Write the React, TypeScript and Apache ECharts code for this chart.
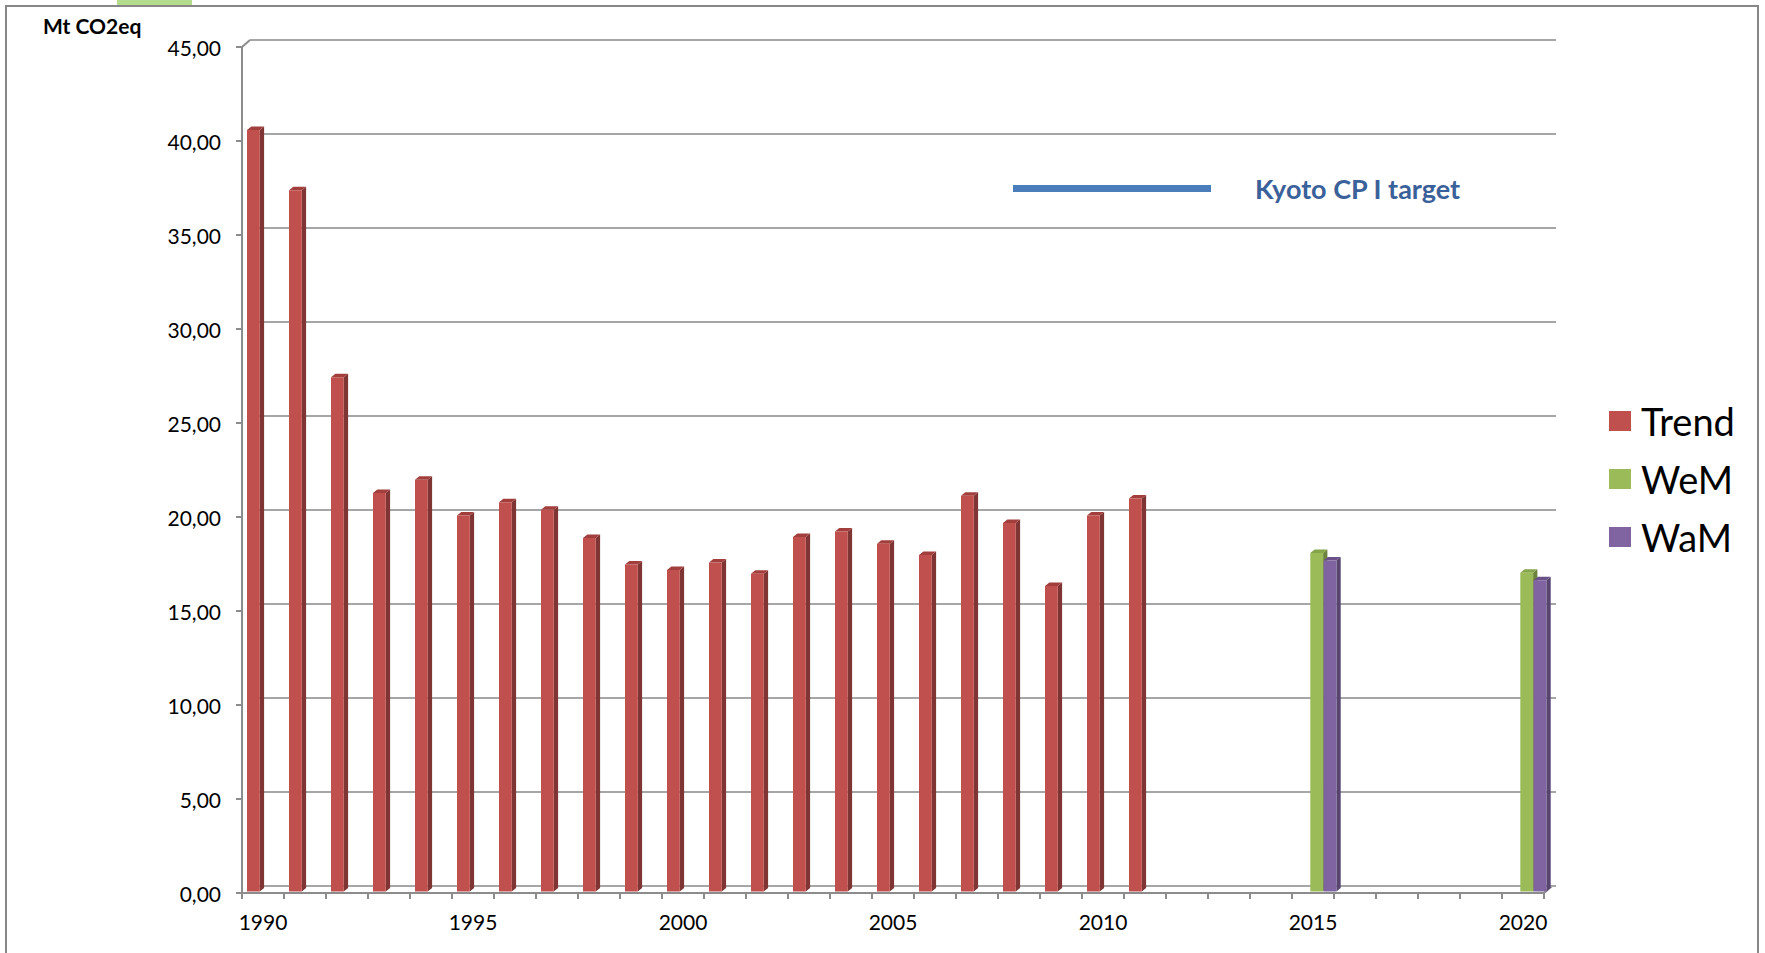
import React, { useEffect, useRef } from 'react';
import * as echarts from 'echarts';

const categories = [
  '1990', '1991', '1992', '1993', '1994', '1995', '1996', '1997', '1998', '1999',
  '2000', '2001', '2002', '2003', '2004', '2005', '2006', '2007', '2008', '2009',
  '2010', '2011', '2012', '2013', '2014', '2015', '2016', '2017', '2018', '2019', '2020',
];
const trendValues = [
  40.5, 37.3, 27.35, 21.2, 21.9, 20.0, 20.7, 20.3, 18.8, 17.4,
  17.1, 17.5, 16.9, 18.85, 19.15, 18.5, 17.9, 21.05, 19.6, 16.25,
  20.0, 20.9,
];
const projectionYears = ['2015', '2020'];
const wemValues = [18.0, 16.95];
const wamValues = [17.6, 16.55];
const yMin = 0;
const yMax = 45;
const yStep = 5;

const FONT = 'Lato, "Open Sans", sans-serif';

type Colors = { front: string; side: string; top: string };
const trendColors: Colors = { front: '#C0504D', side: '#7E3533', top: '#A23F3C' };
const wemColors: Colors = { front: '#9BBB59', side: '#6C833D', top: '#86A449' };
const wamColors: Colors = { front: '#8064A2', side: '#574570', top: '#6A5289' };

function make3D(slot: number, colors: Colors) {
  return (params: any, api: any) => {
    const idx = api.value(0);
    const v = api.value(1);
    if (v == null || isNaN(v)) return null;
    const p = api.coord([idx, v]);
    const b = api.coord([idx, 0]);
    const band = api.size([1, 0])[0];
    const u = band / 42;
    const w = 12.8 * u;
    const dx = 4.3 * u;
    const dy = 3.5 * u;
    const L = p[0] - 16 * u + slot * 13.3 * u;
    const yT = p[1] - 1.5;
    const yB = b[1] - 1.5;
    return {
      type: 'group',
      children: [
        {
          type: 'polygon',
          shape: { points: [[L + w, yT], [L + w + dx, yT - dy], [L + w + dx, yB - dy], [L + w, yB]] },
          style: { fill: colors.side },
        },
        {
          type: 'polygon',
          shape: { points: [[L, yT], [L + dx, yT - dy], [L + w + dx, yT - dy], [L + w, yT]] },
          style: { fill: colors.top },
        },
        {
          type: 'rect',
          shape: { x: L, y: yT, width: w, height: yB - yT },
          style: { fill: colors.front },
        },
      ],
    };
  };
}

export default function App() {
  const ref = useRef<HTMLDivElement>(null);
  useEffect(() => {
    if (!ref.current) return;
    const chart = echarts.init(ref.current, null, { renderer: 'svg' });
    const trendData = trendValues.map((v, i) => [i, v]);
    const wemData = projectionYears.map((y, i) => [categories.indexOf(y), wemValues[i]]);
    const wamData = projectionYears.map((y, i) => [categories.indexOf(y), wamValues[i]]);
    const axisGray = '#8C8C8C';
    const gridGray = '#A6A6A6';
    chart.setOption({
      animation: false,
      backgroundColor: '#fff',
      textStyle: { fontFamily: FONT },
      title: {
        text: 'Mt CO2eq',
        left: 43,
        top: 15,
        padding: 0,
        textStyle: { fontFamily: FONT, fontSize: 21, fontWeight: 'bold', color: '#000' },
      },
      legend: [
        {
          data: [
            { name: 'Trend', icon: 'rect' },
            { name: 'WeM', icon: 'rect' },
            { name: 'WaM', icon: 'rect' },
          ],
          orient: 'vertical',
          left: 1609,
          top: 402,
          padding: 0,
          itemWidth: 22,
          itemHeight: 20,
          itemGap: 20,
          selectedMode: false,
          textStyle: { fontFamily: FONT, fontSize: 38, lineHeight: 38, color: '#000', padding: [0, 0, 0, 5] },
        },
        {
          data: [{ name: 'Kyoto CP I target', icon: 'rect' }],
          left: 1013,
          top: 175,
          padding: 0,
          itemWidth: 198,
          itemHeight: 7,
          selectedMode: false,
          textStyle: {
            fontFamily: FONT,
            fontSize: 27,
            lineHeight: 27,
            fontWeight: 'bold',
            color: '#3B619A',
            padding: [0, 0, 0, 39],
          },
        },
      ],
      grid: [
        { left: 242, top: 47, width: 1302, height: 846 },
        { left: 250, top: 40, width: 1306, height: 846 },
      ],
      xAxis: [
        {
          type: 'category',
          gridIndex: 0,
          data: categories,
          boundaryGap: true,
          axisLine: { show: true, lineStyle: { color: axisGray, width: 2 } },
          axisTick: { show: true, interval: 0, length: 6, lineStyle: { color: axisGray, width: 2 } },
          axisLabel: { interval: 4, margin: 18, fontFamily: FONT, fontSize: 21, color: '#000' },
          splitLine: { show: false },
        },
        {
          type: 'category',
          gridIndex: 1,
          data: categories,
          show: false,
        },
      ],
      yAxis: [
        {
          type: 'value',
          gridIndex: 0,
          min: yMin,
          max: yMax,
          interval: yStep,
          axisLine: { show: true, lineStyle: { color: axisGray, width: 2 } },
          axisTick: { show: true, length: 6, lineStyle: { color: axisGray, width: 2 } },
          axisLabel: {
            margin: 21,
            fontFamily: FONT,
            fontSize: 21,
            color: '#000',
            formatter: (v: number) => v.toFixed(2).replace('.', ','),
          },
          splitLine: { show: false },
        },
        {
          type: 'value',
          gridIndex: 1,
          min: yMin,
          max: yMax,
          interval: yStep,
          axisLine: { show: false },
          axisTick: { show: false },
          axisLabel: { show: false },
          splitLine: { show: true, lineStyle: { color: gridGray, width: 2 } },
        },
      ],
      series: [
        {
          name: 'Trend',
          type: 'custom',
          xAxisIndex: 0,
          yAxisIndex: 0,
          encode: { x: 0, y: 1 },
          itemStyle: { color: trendColors.front },
          renderItem: make3D(0, trendColors),
          data: trendData,
          clip: false,
          z: 5,
        },
        {
          name: 'WeM',
          type: 'custom',
          xAxisIndex: 0,
          yAxisIndex: 0,
          encode: { x: 0, y: 1 },
          itemStyle: { color: wemColors.front },
          renderItem: make3D(1, wemColors),
          data: wemData,
          clip: false,
          z: 5,
        },
        {
          name: 'WaM',
          type: 'custom',
          xAxisIndex: 0,
          yAxisIndex: 0,
          encode: { x: 0, y: 1 },
          itemStyle: { color: wamColors.front },
          renderItem: make3D(2, wamColors),
          data: wamData,
          clip: false,
          z: 6,
        },
        {
          name: 'Kyoto CP I target',
          type: 'line',
          xAxisIndex: 0,
          yAxisIndex: 0,
          data: [],
          itemStyle: { color: '#4A7EBB' },
          lineStyle: { color: '#4A7EBB', width: 7 },
        },
      ],
      graphic: [
        {
          type: 'rect',
          shape: { x: 6, y: 6, width: 1752, height: 1000 },
          style: { fill: 'none', stroke: '#878787', lineWidth: 2 },
          silent: true,
        },
        {
          type: 'rect',
          shape: { x: 117, y: 0, width: 75, height: 5 },
          style: { fill: '#B5DC8C' },
          silent: true,
        },
        {
          type: 'line',
          shape: { x1: 242, y1: 47, x2: 250, y2: 40 },
          style: { stroke: axisGray, lineWidth: 2 },
          silent: true,
        },
        {
          type: 'line',
          shape: { x1: 1544, y1: 893, x2: 1552, y2: 886 },
          style: { stroke: axisGray, lineWidth: 2 },
          silent: true,
        },
      ],
    });
    return () => chart.dispose();
  }, []);
  return (
    <div
      ref={ref}
      style={{ position: 'fixed', left: 0, top: 0, width: 1765, height: 953, background: '#fff' }}
    />
  );
}
